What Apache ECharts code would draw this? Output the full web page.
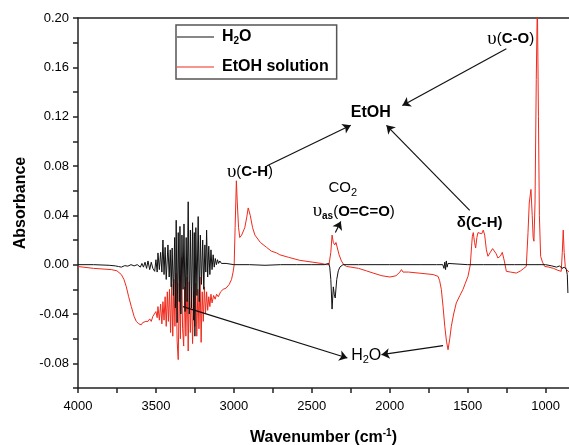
<!DOCTYPE html>
<html><head><meta charset="utf-8">
<script src="https://cdn.jsdelivr.net/npm/echarts@6/dist/echarts.min.js"></script>
<style>html,body{margin:0;padding:0;background:#fff}#c{width:569px;height:445px}</style>
</head><body><div id="c"></div>
<script>
const FONT = '"Liberation Sans", Arial, sans-serif';
const GREEK = '"Liberation Serif", "DejaVu Serif", serif';
const xTickLabels = [4000, 3500, 3000, 2500, 2000, 1500, 1000];
const xTickValues = [4000, 3750, 3500, 3250, 3000, 2750, 2500, 2250, 2000, 1750, 1500, 1250, 1000];
const yTickLabels = [-0.08, -0.04, 0, 0.04, 0.08, 0.12, 0.16, 0.20];
const yTickValues = [-0.10, -0.08, -0.06, -0.04, -0.02, 0, 0.02, 0.04, 0.06, 0.08, 0.10, 0.12, 0.14, 0.16, 0.18, 0.20];
const seriesNames = ['H2O', 'EtOH solution'];

// [wavenumber (cm-1), absorbance]
const h2oPoints = [
[4000,0.000],[3900,0.000],[3800,-0.0005],[3760,-0.001],[3740,-0.0015],[3722,-0.002],[3700,-0.0008],[3680,-0.0012],[3660,0.000],[3640,-0.001],[3620,0.000],
[3600,-0.002],[3590,0.001],[3580,-0.002],[3570,0.002],[3560,-0.003],[3551,0.003],[3540,-0.004],[3530,0.002],[3520,-0.003],[3508,-0.0054],[3500,0.004],
[3492,-0.006],[3487,0.0095],[3478,-0.004],[3470,0.010],[3462,-0.006],[3455,0.020],[3448,-0.008],[3441,0.014],[3434,-0.012],[3423,0.016],[3415,-0.010],
[3408,0.012],[3402,-0.018],[3396,0.0135],[3388,-0.025],[3380,0.022],[3375,-0.035],[3370,0.036],[3364,-0.047],[3357,0.026],[3350,-0.030],[3346,0.031],
[3340,-0.040],[3333,0.024],[3326,-0.020],[3320,0.033],[3313,-0.038],[3306,0.022],[3300,-0.030],[3293,0.051],[3286,-0.040],[3279,0.028],[3272,-0.035],
[3265,0.034],[3258,-0.045],[3254,0.026],[3250,-0.058],[3244,0.030],[3237,-0.025],[3229,0.039],[3222,-0.030],[3215,0.024],[3208,-0.016],[3200,0.020],
[3193,-0.020],[3186,0.016],[3180,-0.006],[3175,0.028],[3168,-0.010],[3161,0.015],[3154,-0.008],[3147,0.012],[3140,-0.004],[3133,0.008],[3126,-0.002],
[3119,0.005],[3112,0.000],[3105,0.004],[3098,0.001],[3090,0.003],[3080,0.001],[3070,0.002],[3050,0.001],[3000,0.000],[2900,0.000],[2800,-0.0005],
[2700,0.000],[2600,0.000],[2500,0.000],[2420,0.000],[2392,0.001],[2385,-0.002],[2378,-0.012],[2370,-0.036],[2362,-0.018],[2356,-0.024],[2350,-0.027],
[2340,-0.012],[2330,-0.005],[2320,-0.002],[2300,0.000],[2200,0.000],[2000,0.000],[1800,0.000],[1700,0.000],[1660,0.000],[1652,-0.003],[1647,0.002],
[1642,-0.004],[1637,0.003],[1632,-0.002],[1626,0.001],[1615,0.000],[1500,0.000],[1400,0.000],[1300,0.000],[1200,0.000],[1100,0.000],[1000,0.000],
[960,-0.001],[930,-0.002],[910,-0.001],[895,-0.003],[880,-0.002],[867,-0.004],[861,-0.008],[857,-0.023]
];

const etohPoints = [
[4000,-0.0015],[3900,-0.003],[3786,-0.004],[3750,-0.005],[3722,-0.008],[3705,-0.012],[3690,-0.018],[3675,-0.026],[3658,-0.034],[3640,-0.042],[3626,-0.046],
[3610,-0.048],[3594,-0.0487],[3585,-0.047],[3575,-0.048],[3565,-0.046],[3551,-0.046],[3540,-0.044],[3530,-0.046],[3520,-0.042],[3508,-0.042],[3500,-0.038],
[3492,-0.043],[3487,-0.034],[3478,-0.045],[3470,-0.032],[3462,-0.048],[3455,-0.030],[3448,-0.045],[3441,-0.026],[3434,-0.050],[3427,-0.022],[3420,-0.046],
[3413,-0.020],[3406,-0.055],[3399,-0.016],[3392,-0.058],[3385,-0.012],[3378,-0.050],[3371,-0.007],[3364,-0.062],[3357,-0.077],[3350,-0.015],[3343,-0.060],
[3336,0.006],[3329,-0.052],[3322,-0.066],[3315,-0.018],[3308,-0.058],[3300,-0.010],[3293,-0.070],[3286,-0.014],[3279,-0.055],[3272,-0.018],[3265,-0.064],
[3258,-0.022],[3251,-0.050],[3245,-0.015],[3238,-0.058],[3231,-0.020],[3224,-0.052],[3217,-0.010],[3210,-0.063],[3203,-0.022],[3196,-0.046],[3189,-0.018],
[3182,-0.040],[3175,-0.022],[3168,-0.037],[3161,-0.026],[3154,-0.034],[3147,-0.024],[3140,-0.031],[3130,-0.025],[3120,-0.028],[3111,-0.024],[3100,-0.026],
[3085,-0.022],[3069,-0.020],[3050,-0.019],[3030,-0.016],[3015,-0.012],[3005,-0.006],[2998,0.000],[2992,0.030],[2984,0.068],[2978,0.050],[2970,0.030],
[2962,0.022],[2950,0.024],[2930,0.030],[2918,0.038],[2908,0.046],[2895,0.040],[2880,0.030],[2865,0.024],[2830,0.018],[2790,0.014],[2760,0.011],
[2726,0.0095],[2705,0.008],[2650,0.006],[2577,0.0035],[2493,0.002],[2440,0.001],[2406,0.000],[2390,0.000],[2378,0.010],[2370,0.024],[2362,0.018],
[2353,0.016],[2345,0.018],[2338,0.0176],[2325,0.008],[2310,0.003],[2295,0.000],[2278,-0.0014],[2200,-0.003],[2150,-0.005],[2107,-0.0068],[2050,-0.009],
[1999,-0.010],[1960,-0.009],[1935,-0.006],[1925,-0.004],[1915,-0.006],[1880,-0.006],[1800,-0.007],[1722,-0.008],[1690,-0.0095],[1680,-0.013],[1669,-0.020],
[1658,-0.034],[1647,-0.050],[1636,-0.062],[1626,-0.069],[1615,-0.060],[1605,-0.050],[1590,-0.040],[1573,-0.031],[1550,-0.025],[1530,-0.020],[1515,-0.015],
[1498,-0.0095],[1483,0.000],[1475,0.015],[1470,0.023],[1464,0.026],[1456,0.018],[1449,0.0135],[1441,0.022],[1434,0.026],[1423,0.027],[1410,0.025],
[1400,0.028],[1391,0.024],[1380,0.012],[1370,0.0068],[1355,0.010],[1340,0.013],[1331,0.0135],[1318,0.009],[1306,0.0054],[1290,0.007],[1278,0.010],
[1265,0.003],[1252,-0.0054],[1225,-0.006],[1188,-0.0068],[1160,-0.005],[1140,-0.003],[1124,-0.0014],[1113,0.026],[1105,0.050],[1094,0.061],[1086,0.040],
[1080,0.022],[1075,0.019],[1068,0.050],[1060,0.150],[1053,0.215],[1046,0.120],[1040,0.040],[1032,0.0068],[1020,0.002],[1006,-0.0014],[980,-0.002],
[950,-0.003],[921,-0.0046],[900,-0.0054],[893,0.010],[887,0.028],[881,0.010],[874,-0.0014],[866,-0.004],[857,-0.0054],[850,-0.006]
];

// annotation arrows in data space: [from, to]
const arrows = [
  [[1252, 0.175], [1919, 0.129]],
  [[1487, 0.044], [2021, 0.113]],
  [[2790, 0.080], [2250, 0.113]],
  [[2349, 0.026], [2314, 0.035]],
  [[3327, -0.034], [2272, -0.0757]],
  [[1658, -0.0657], [2053, -0.073]]
];
const annotations = [
  { text: '{g|υ}{p|(}{b|C-O}{p|)}', at: [1224, 0.183] },
  { text: '{e|EtOH}', at: [2122, 0.123] },
  { text: '{g|υ}{p|(}{b|C-H}{p|)}', at: [2897, 0.075] },
  { text: '{r|CO}{rs|2}', at: [2301, 0.062] },
  { text: '{g|υ}{s|as}{p|(}{b|O=C=O}{p|)}', at: [2231, 0.0432] },
  { text: '{b|δ(C-H)}', at: [1423, 0.0343] },
  { text: '{h|H}{hs|2}{h|O}', at: [2151, -0.0738] }
];

const RICH = {
  g: { fontFamily: GREEK, fontSize: 19, color: '#000', lineHeight: 20 },
  p: { fontFamily: FONT, fontSize: 15, color: '#000', lineHeight: 20 },
  b: { fontFamily: FONT, fontSize: 15, fontWeight: 'bold', color: '#000', lineHeight: 20 },
  s: { fontFamily: FONT, fontSize: 10, fontWeight: 'bold', color: '#000', lineHeight: 12, verticalAlign: 'bottom' },
  e: { fontFamily: FONT, fontSize: 16, fontWeight: 'bold', color: '#000', lineHeight: 20 },
  r: { fontFamily: FONT, fontSize: 15, color: '#000', lineHeight: 20 },
  rs: { fontFamily: FONT, fontSize: 11, color: '#000', lineHeight: 12, verticalAlign: 'bottom' },
  h: { fontFamily: FONT, fontSize: 16, color: '#000', lineHeight: 20 },
  hs: { fontFamily: FONT, fontSize: 11, color: '#000', lineHeight: 12, verticalAlign: 'bottom' }
};

const LINE_ICON = 'path://M0,6.4L37,6.4L37,7.6L0,7.6Z M0,0L0.01,0L0.01,0.01Z M37,14L36.99,14L36.99,13.99Z';

const chart = echarts.init(document.getElementById('c'), null, { renderer: 'canvas' });
const axisLineStyle = { color: '#222', width: 1.5 };
chart.setOption({
  animation: false,
  backgroundColor: '#fff',
  grid: { left: 78, right: 0, top: 18, bottom: 57, containLabel: false, outerBoundsMode: 'none' },
  legend: {
    orient: 'vertical', left: 176, top: 25,
    data: seriesNames,
    icon: LINE_ICON,
    itemWidth: 37, itemHeight: 14, itemGap: 13,
    padding: [4, 8, 4, 1],
    borderColor: '#555', borderWidth: 1.5,
    formatter: function (n) { return n === 'H2O' ? '{b|H}{s|2}{b|O}' : '{b|' + n + '}'; },
    textStyle: {
      padding: [0, 0, 0, 3],
      rich: {
        b: { fontFamily: FONT, fontSize: 16, fontWeight: 'bold', color: '#000', lineHeight: 18 },
        s: { fontFamily: FONT, fontSize: 10, fontWeight: 'bold', color: '#000', lineHeight: 10, verticalAlign: 'bottom' }
      }
    }
  },
  xAxis: [{
    type: 'value', inverse: true, min: 850, max: 4000,
    name: '{t|Wavenumber (cm}{u|-1}{t|)}',
    nameLocation: 'middle', nameGap: 40,
    nameTextStyle: { rich: {
      t: { fontFamily: FONT, fontSize: 16, fontWeight: 'bold', color: '#000', lineHeight: 20 },
      u: { fontFamily: FONT, fontSize: 10, fontWeight: 'bold', color: '#000', lineHeight: 10, verticalAlign: 'top' }
    } },
    axisLine: { show: true, onZero: false, lineStyle: axisLineStyle },
    axisTick: { show: true, inside: false, length: 5, lineStyle: axisLineStyle, customValues: xTickValues },
    axisLabel: { customValues: xTickLabels, margin: 12, fontFamily: FONT, fontSize: 13, color: '#000',
      formatter: function (v) { return String(Math.round(v)); } },
    splitLine: { show: false }
  }, {
    type: 'value', inverse: true, min: 850, max: 4000, position: 'top',
    axisLine: { show: true, onZero: false, lineStyle: axisLineStyle },
    axisTick: { show: false }, axisLabel: { show: false }, splitLine: { show: false }
  }],
  yAxis: {
    type: 'value', min: -0.10, max: 0.20,
    name: 'Absorbance', nameLocation: 'middle', nameGap: 47, nameRotate: 90,
    nameTextStyle: { fontFamily: FONT, fontSize: 16, fontWeight: 'bold', color: '#000' },
    axisLine: { show: true, onZero: false, lineStyle: axisLineStyle },
    axisTick: { show: true, inside: false, length: 5, lineStyle: axisLineStyle, customValues: yTickValues },
    axisLabel: { customValues: yTickLabels, margin: 9, fontFamily: FONT, fontSize: 13, color: '#000',
      formatter: function (v) { return v.toFixed(2); } },
    splitLine: { show: false }
  },
  series: [{
    name: 'EtOH solution', type: 'line', symbol: 'none', showSymbol: false,
    lineStyle: { color: '#ee2a1c', width: 1 }, itemStyle: { color: '#ee2a1c' },
    data: etohPoints, z: 2
  }, {
    name: 'H2O', type: 'line', symbol: 'none', showSymbol: false,
    lineStyle: { color: '#111', width: 1 }, itemStyle: { color: '#111' },
    data: h2oPoints, z: 3,
    markLine: {
      silent: true, symbol: ['none', 'arrow'], symbolSize: 8, animation: false,
      lineStyle: { color: '#111', width: 1.2, type: 'solid' },
      label: { show: false }, emphasis: { disabled: true },
      data: arrows.map(function (a) { return [{ coord: a[0] }, { coord: a[1] }]; })
    }
  }]
});

chart.setOption({
  graphic: annotations.map(function (a) {
    const p = chart.convertToPixel({ xAxisIndex: 0, yAxisIndex: 0 }, a.at);
    return { type: 'text', x: p[0], y: p[1], z: 10,
      style: { text: a.text, rich: RICH, align: 'center', verticalAlign: 'middle', fill: '#000' } };
  })
});
</script></body></html>
